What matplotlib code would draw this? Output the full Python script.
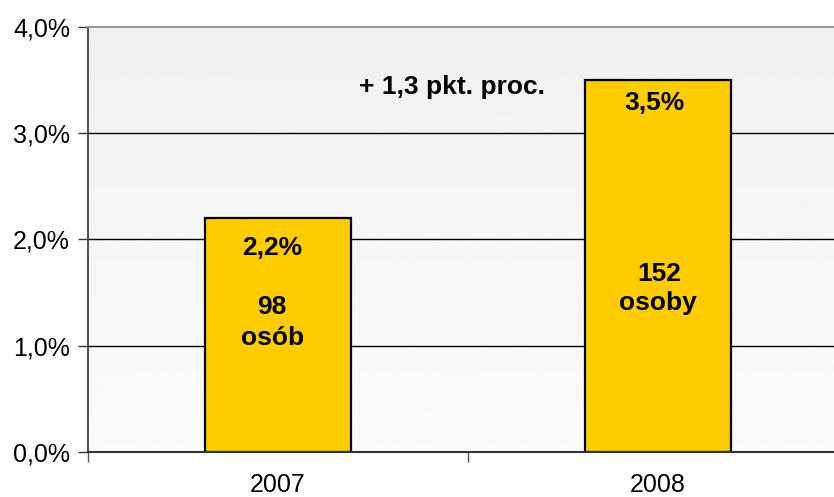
import numpy as np
import matplotlib.pyplot as plt
from matplotlib.ticker import FuncFormatter

plt.rcParams['font.family'] = ['Liberation Sans', 'DejaVu Sans']

# dane
lata = ['2007', '2008']
udzial = [2.2, 3.5]            # %
etykiety_proc = ['2,2%', '3,5%']
liczba = ['98', '152']
slowo_osoby = ['osób', 'osoby']
roznica = '+ 1,3 pkt. proc.'

fig = plt.figure(figsize=(8.34, 4.97), dpi=100)
ax = fig.add_axes([88 / 834, 45 / 497, 746 / 834, 425 / 497])

# tło z gradientem (jaśniejsze na dole)
grad = np.linspace(0.94, 0.985, 256).reshape(-1, 1)
ax.imshow(grad, extent=[0, 1, 0, 1], transform=ax.transAxes, cmap='gray',
          vmin=0, vmax=1, aspect='auto', zorder=0, origin='upper')

x = np.arange(len(lata))
ax.bar(x, udzial, width=0.385, color='#FFCC00', edgecolor='black',
       linewidth=1.6, zorder=3)

ax.set_xlim(-0.5, 1.5 - 14 / 380)
ax.set_ylim(0, 4)

for v in [1, 2, 3]:
    ax.axhline(v, color='black', lw=1, zorder=1)

ax.set_yticks([0, 1, 2, 3, 4])
ax.yaxis.set_major_formatter(FuncFormatter(lambda v, p: f'{v:.1f}%'.replace('.', ',')))
ax.tick_params(axis='y', length=7, width=1, labelsize=18, pad=6, color='#333333')

ax.set_xticks(x)
ax.set_xticklabels(lata)
ax.set_xticks([-0.5, 0.5], minor=True)
ax.tick_params(axis='x', which='major', length=0, labelsize=18, pad=15)
ax.tick_params(axis='x', which='minor', length=7, width=1, color='#555555')

ax.spines['top'].set_color('#999999')
ax.spines['top'].set_linewidth(1.5)
ax.spines['right'].set_visible(False)
ax.spines['left'].set_color('#333333')
ax.spines['left'].set_linewidth(1.2)
ax.spines['bottom'].set_color('#333333')
ax.spines['bottom'].set_linewidth(1.5)
for s in ax.spines.values():
    s.set_zorder(4)

# opisy słupków
kw = dict(ha='center', va='center', fontsize=19, fontweight='bold', zorder=5)
ax.text(x[0] - 0.015, 1.92, etykiety_proc[0], **kw)
ax.text(x[0] - 0.015, 1.365, liczba[0], **kw)
ax.text(x[0] - 0.015, 1.07, slowo_osoby[0], **kw)
ax.text(x[1] - 0.008, 3.285, etykiety_proc[1], **kw)
ax.text(x[1] + 0.003, 1.675, liczba[1], **kw)
ax.text(x[1] + 0.0, 1.40, slowo_osoby[1], **kw)
ax.text(0.458, 3.435, roznica, **kw)

fig.savefig('out.png', dpi=100)
